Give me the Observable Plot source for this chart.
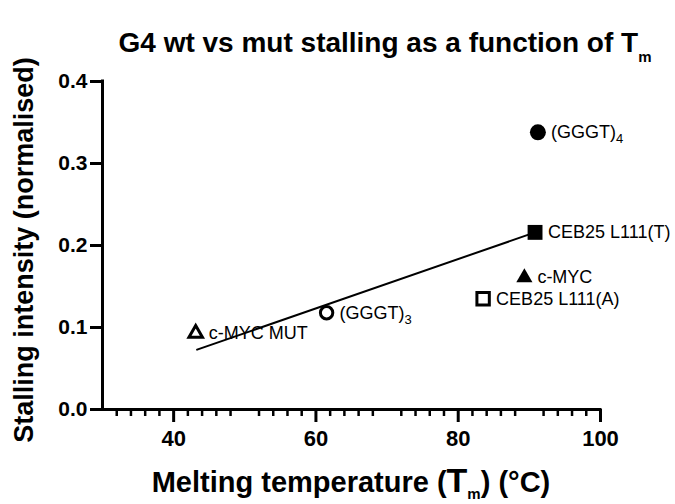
<!DOCTYPE html>
<html>
<head>
<meta charset="utf-8">
<script src="https://cdn.jsdelivr.net/npm/d3@7"></script>
<script src="https://cdn.jsdelivr.net/npm/@observablehq/plot@0.6"></script>
<style>
  html, body { margin: 0; padding: 0; background: #fff; }
  #chart { width: 675px; height: 504px; }
  svg { font-family: "Liberation Sans", Arial, sans-serif; }
</style>
</head>
<body>
<div id="chart"></div>
<script>
// ---- data ----
const names   = ["(GGGT)", "CEB25 L111(T)", "c-MYC", "CEB25 L111(A)", "(GGGT)", "c-MYC MUT"];
const subs    = ["4", "", "", "", "3", ""];
const tm      = [91.2, 90.8, 89.3, 83.5, 61.5, 43.1];
const stall   = [0.338, 0.216, 0.161, 0.135, 0.118, 0.093];
const symbols = ["circle", "square", "triangle", "square", "circle", "triangle"];
const filled  = [true, true, true, false, false, false];

const fitTm    = [43.3, 90.8];
const fitStall = [0.073, 0.216];

const xMajor = [40, 60, 80, 100];
const xMinor = [32, 34, 36, 38, 42, 44, 46, 48, 52, 54, 56, 58, 62, 64, 66, 68, 72, 74, 76, 78, 82, 84, 86, 88, 92, 94, 96, 98];
const yTicks = [0, 0.1, 0.2, 0.3, 0.4];

const titleText = "G4 wt vs mut stalling as a function of ";
const xLabelText = "Melting temperature (";
const yLabelText = "Stalling intensity (normalised)";

// ---- build tables ----
const points = names.map((n, i) => ({name: n, sub: subs[i], tm: tm[i], stall: stall[i], symbol: symbols[i], filled: filled[i]}));
const fit = fitTm.map((t, i) => ({tm: t, stall: fitStall[i]}));

// marker radius per symbol (style)
const filledR = {circle: 8, square: 8.4, triangle: 6};
const openR = {circle: 6.2, square: 7, triangle: 5};

const svg = Plot.plot({
  width: 675,
  height: 504,
  marginLeft: 102,
  marginRight: 75,
  marginTop: 81,
  marginBottom: 95,
  style: {fontFamily: "Liberation Sans, Arial, sans-serif", background: "white"},
  x: {domain: [30, 100], label: null},
  y: {domain: [0, 0.4], label: null},
  symbol: {type: "identity"},
  r: {type: "identity"},
  marks: [
    Plot.axisX({ticks: xMinor, tickSize: 7, tickFormat: () => "", stroke: "black", strokeWidth: 2.5}),
    Plot.axisX({ticks: xMajor, tickSize: 13, tickPadding: 8, fontSize: 22, fontWeight: "bold", fill: "black", stroke: "black", strokeWidth: 3}),
    Plot.axisY({ticks: yTicks, tickSize: 12, tickPadding: 3, tickFormat: d3.format(".1f"), fontSize: 21, fontWeight: "bold", fill: "black", stroke: "black", strokeWidth: 3}),
    Plot.ruleY([0], {stroke: "black", strokeWidth: 3, strokeLinecap: "square"}),
    Plot.ruleX([30], {stroke: "black", strokeWidth: 3, strokeLinecap: "square"}),
    Plot.line(fit, {x: "tm", y: "stall", stroke: "black", strokeWidth: 2}),
    Plot.dot(points.filter(d => d.filled), {x: "tm", y: "stall", symbol: "symbol", r: d => filledR[d.symbol], fill: "black", stroke: "none"}),
    Plot.dot(points.filter(d => !d.filled), {x: "tm", y: "stall", symbol: "symbol", r: d => openR[d.symbol], fill: "white", stroke: "black", strokeWidth: 3}),
    Plot.text(points, {x: "tm", y: "stall", text: "name", dx: 13, textAnchor: "start", fontSize: 18, fill: "black"})
  ]
});

document.getElementById("chart").appendChild(svg);

// subscripts for point labels: match text elements by content, in data order
const withSub = points.filter(d => d.name === "(GGGT)");
const ggTexts = Array.from(svg.querySelectorAll("text")).filter(el => el.textContent === "(GGGT)");
ggTexts.forEach((el, i) => {
  const sb = withSub[i] && withSub[i].sub;
  if (sb) {
    const t = document.createElementNS("http://www.w3.org/2000/svg", "tspan");
    t.setAttribute("dy", "5");
    t.setAttribute("font-size", "13");
    t.textContent = sb;
    el.appendChild(t);
  }
});

const s = d3.select(svg);

// title
const title = s.append("text")
  .attr("x", 385).attr("y", 52)
  .attr("text-anchor", "middle")
  .attr("font-size", 28).attr("font-weight", "bold").attr("fill", "black");
title.append("tspan").text(titleText + "T");
title.append("tspan").attr("font-size", 15).attr("dy", 10).text("m");

// x label
const xl = s.append("text")
  .attr("x", 351).attr("y", 492)
  .attr("text-anchor", "middle")
  .attr("font-size", 29).attr("font-weight", "bold").attr("fill", "black");
xl.append("tspan").text(xLabelText);
xl.append("tspan").attr("font-size", 34).text("T");
xl.append("tspan").attr("font-size", 15).attr("dy", 7).text("m");
xl.append("tspan").attr("dy", -7).text(") (°C)");

// y label
s.append("text")
  .attr("transform", "translate(33,250) rotate(-90)")
  .attr("text-anchor", "middle")
  .attr("font-size", 27).attr("font-weight", "bold").attr("fill", "black")
  .text(yLabelText);
</script>
</body>
</html>
